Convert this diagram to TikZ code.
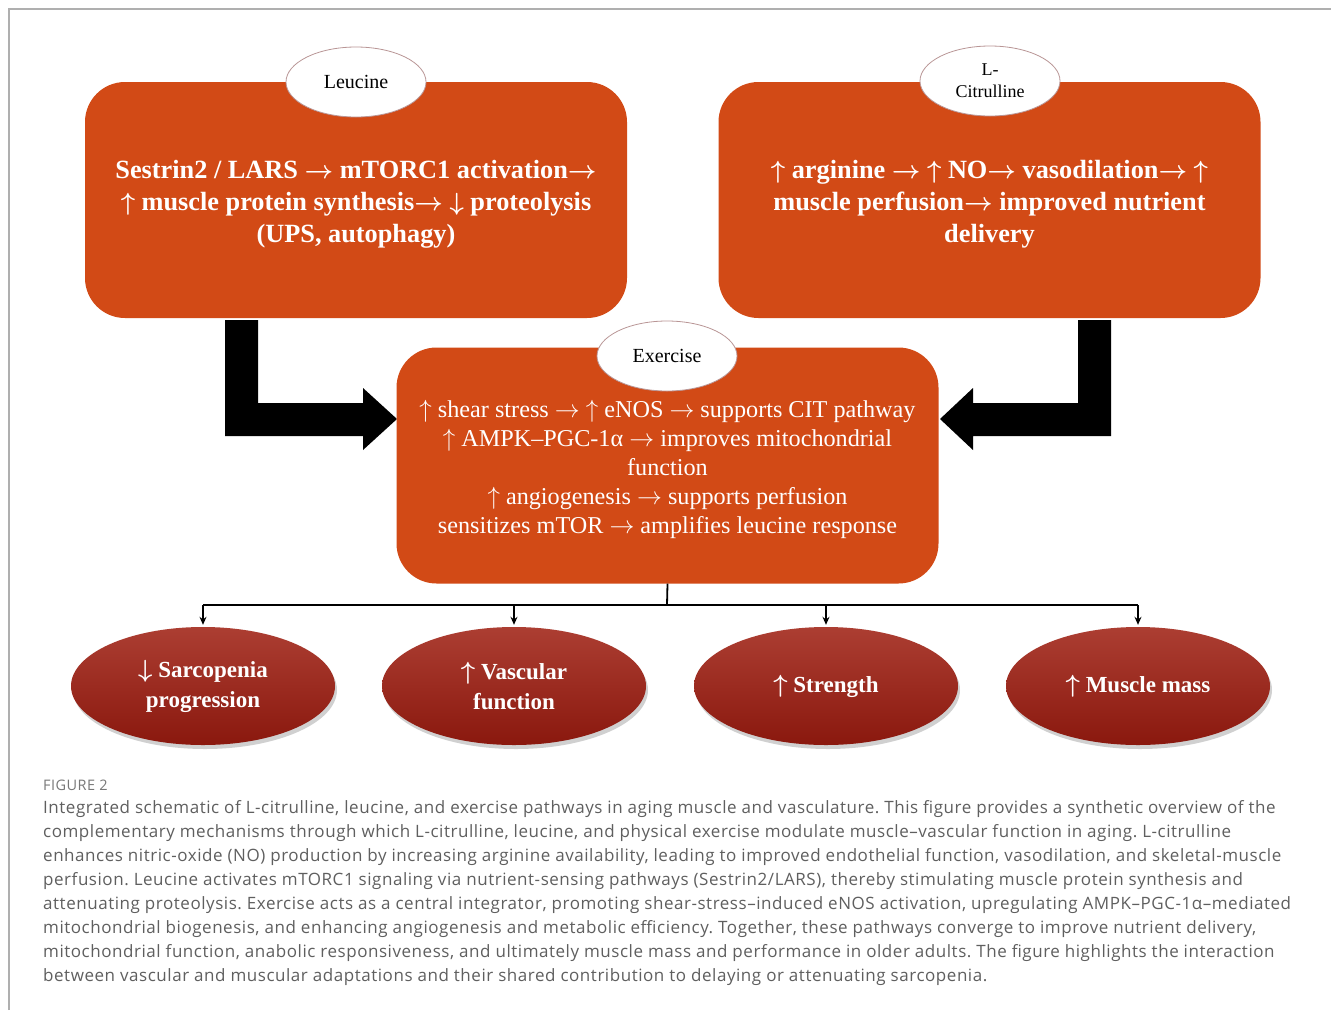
\documentclass[tikz,border=0pt]{standalone}
\usepackage{fontspec}
\setmainfont{Liberation Serif}
\newfontfamily\capfont[LetterSpace=3.2]{Open Sans}
\usetikzlibrary{shapes.geometric,arrows.meta,shadows}
\definecolor{boxorange}{RGB}{210,74,22}
\definecolor{ovtop}{RGB}{172,62,50}
\definecolor{ovbot}{RGB}{138,24,14}
\definecolor{ovedge}{RGB}{185,150,150}
\definecolor{framegray}{RGB}{175,175,175}
\definecolor{capgray}{RGB}{95,95,95}
\definecolor{figgray}{RGB}{120,120,120}
\newcommand\myup{$\uparrow$}
\newcommand\mydown{$\downarrow$}
\newcommand\myright{$\rightarrow$}
\tikzset{
  bigbox/.style={rectangle, rounded corners=40pt, fill=boxorange, draw=none,
    minimum width=542pt, minimum height=236pt, inner sep=0pt},
  boldtext/.style={text=white, align=center, inner sep=0pt,
    font=\fontsize{26.3}{32}\selectfont\bfseries\boldmath},
  plaintext/.style={text=white, align=center, inner sep=0pt,
    font=\fontsize{24.2}{29}\selectfont},
  tagoval/.style={ellipse, fill=white, draw=ovedge, line width=0.8pt,
    minimum width=140pt, minimum height=70pt, inner sep=0pt, align=center},
  outoval/.style={ellipse, top color=ovtop, bottom color=ovbot, draw=none,
    minimum width=264pt, minimum height=118pt, inner sep=0pt, text=white, align=center,
    font=\fontsize{23}{30}\selectfont\bfseries\boldmath,
    drop shadow={opacity=0.3, shadow xshift=2pt, shadow yshift=-4pt, fill=black!60}},
  blockarrow/.style={fill=black, draw=none},
  link/.style={line width=1.8pt, draw=black},
  linkarrow/.style={line width=1.8pt, draw=black, -{Stealth[length=8pt,width=7pt]}},
  capline/.style={anchor=base west, inner sep=0pt, text=capgray,
    font=\capfont\fontsize{17}{24}\selectfont\frenchspacing}
}
\begin{document}
\begin{tikzpicture}[x=1pt,y=-1pt]
\useasboundingbox (0,0) rectangle (1331,1010);
\fill[white] (0,0) rectangle (1331,1010);
% frame
\draw[framegray, line width=1.5pt] (9,1010) -- (9,9) -- (1331,9);

% top boxes
\node[bigbox] (L) at (356,200) {};
\node[boldtext] (Ltxt) at ([yshift=-4pt]L.center)
  {Sestrin2 / LARS \myright{} mTORC1 activation\myright\\ \myup{} muscle protein synthesis\myright{} \mydown{} proteolysis\\ (UPS, autophagy)};
\node[bigbox] (R) at (989.5,200) {};
\node[boldtext] (Rtxt) at ([yshift=-4pt]R.center)
  {\myup{} arginine \myright{} \myup{} NO\myright{} vasodilation\myright{} \myup\\ muscle perfusion\myright{} improved nutrient\\ delivery};
\node[tagoval, font=\fontsize{20}{24}\selectfont] (Leu) at (356,82) {Leucine};
\node[tagoval, font=\fontsize{18}{22}\selectfont] (Cit) at (990,81) {L-\\Citrulline};

% block arrows
\fill[blockarrow] (225,320) -- (258,320) -- (258,403) -- (363,403) -- (363,388) -- (397,419)
  -- (363,450) -- (363,436) -- (225,436) -- cycle;
\fill[blockarrow] (1111,320) -- (1078,320) -- (1078,403) -- (973,403) -- (973,388) -- (940,419)
  -- (973,450) -- (973,436) -- (1111,436) -- cycle;

% center box
\node[bigbox] (C) at (667.5,465.5) {};
\node[plaintext] (Ctxt) at ([yshift=-4pt]C.center)
  {\myup{} shear stress \myright{} \myup{} eNOS \myright{} supports CIT pathway\\ \myup{} AMPK–PGC-1α \myright{} improves mitochondrial\\ function\\ \myup{} angiogenesis \myright{} supports perfusion\\ sensitizes mTOR \myright{} amplifies leucine response};
\node[tagoval, font=\fontsize{20}{24}\selectfont] (Ex) at (667,356) {Exercise};

% outcome ovals
\node[outoval] (O1) at (203,686) {\mydown{} Sarcopenia\\ progression};
\node[outoval] (O2) at (514,686) {\myup{} Vascular\\ function};
\node[outoval] (O3) at (826,686) {\myup{} Strength};
\node[outoval] (O4) at (1138,686) {\myup{} Muscle mass};

% connectors
\coordinate (J) at (667,605);
\draw[link] (C.south) -- (J);
\draw[link] (O1.north |- J) -- (O4.north |- J);
\draw[linkarrow] (O1.north |- J) -- ([yshift=2pt]O1.north);
\draw[linkarrow] (O2.north |- J) -- ([yshift=2pt]O2.north);
\draw[linkarrow] (O3.north |- J) -- ([yshift=2pt]O3.north);
\draw[linkarrow] (O4.north |- J) -- ([yshift=2pt]O4.north);

% caption
\node[anchor=base west, inner sep=0pt, text=figgray, font=\capfont\fontsize{14.5}{16}\selectfont] (fig) at (43,790) {FIGURE 2};
\node[capline] (c1) at (43,813) {Integrated schematic of L-citrulline, leucine, and exercise pathways in aging muscle and vasculature. This figure provides a synthetic overview of the};
\node[capline] (c2) at (43,837) {complementary mechanisms through which L-citrulline, leucine, and physical exercise modulate muscle–vascular function in aging. L-citrulline};
\node[capline] (c3) at (43,861) {enhances nitric-oxide (NO) production by increasing arginine availability, leading to improved endothelial function, vasodilation, and skeletal-muscle};
\node[capline] (c4) at (43,885) {perfusion. Leucine activates mTORC1 signaling via nutrient-sensing pathways (Sestrin2/LARS), thereby stimulating muscle protein synthesis and};
\node[capline] (c5) at (43,909) {attenuating proteolysis. Exercise acts as a central integrator, promoting shear-stress–induced eNOS activation, upregulating AMPK–PGC-1α–mediated};
\node[capline] (c6) at (43,933) {mitochondrial biogenesis, and enhancing angiogenesis and metabolic efficiency. Together, these pathways converge to improve nutrient delivery,};
\node[capline] (c7) at (43,957) {mitochondrial function, anabolic responsiveness, and ultimately muscle mass and performance in older adults. The figure highlights the interaction};
\node[capline] (c8) at (43,981) {between vascular and muscular adaptations and their shared contribution to delaying or attenuating sarcopenia.};
\end{tikzpicture}
\end{document}
